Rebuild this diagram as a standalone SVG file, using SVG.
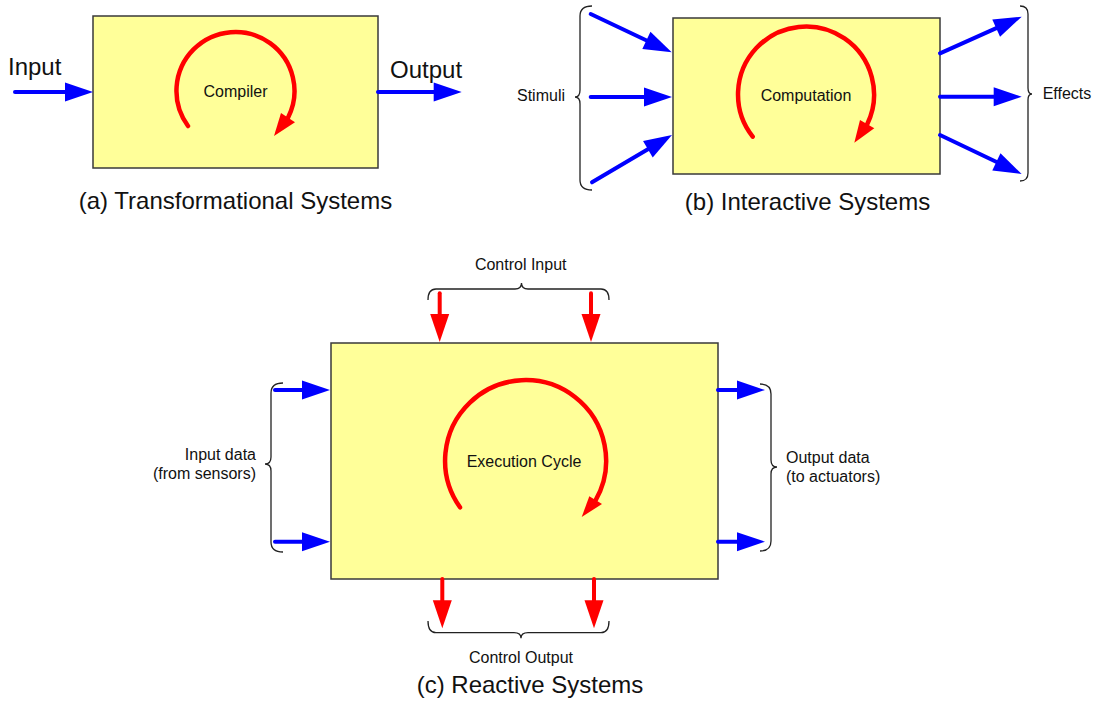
<svg xmlns="http://www.w3.org/2000/svg" width="1096" height="704" viewBox="0 0 1096 704">
<style>
.box{fill:#FFFF99;stroke:#3a3a3a;stroke-width:1.5}
.txt{font-family:"Liberation Sans",Arial,sans-serif;fill:#111}
.s16{font-size:16px}
.s24{font-size:24px}
.mid{text-anchor:middle}
.end{text-anchor:end}
.blue{stroke:#0000FF;stroke-width:4;fill:none;stroke-linecap:round}
.red{stroke:#FF0000;stroke-width:4;fill:none;stroke-linecap:round}
.cyc{stroke:#FF0000;stroke-width:4.5;fill:none;stroke-linecap:round}
.head{fill:#FF0000;stroke:none}
.brace{stroke:#222;stroke-width:1.3;fill:none}
</style>
<defs>
<marker id="bh" markerUnits="userSpaceOnUse" markerWidth="28" markerHeight="19" refX="2" refY="9.5" orient="auto" overflow="visible">
<path d="M0,0 L28,9.5 L0,19 z" fill="#0000FF"/>
</marker>
<marker id="rh" markerUnits="userSpaceOnUse" markerWidth="28" markerHeight="19" refX="2" refY="9.5" orient="auto" overflow="visible">
<path d="M0,0 L28,9.5 L0,19 z" fill="#FF0000"/>
</marker>
</defs>

<!-- (a) Transformational -->
<g id="node-compiler">
<rect class="box" x="93" y="16" width="285" height="152"/>
<path class="cyc" d="M188,126 A59,59 0 1 1 288,117.8"/>
<polygon class="head" points="274,136 281,113 295,122.3"/>
<text class="txt s16 mid" x="235.5" y="96.7">Compiler</text>
</g>
<g id="label-a">
<text class="txt s24" x="8" y="75">Input</text>
<text class="txt s24" x="390" y="78">Output</text>
<text class="txt s24 mid" x="235.5" y="209">(a) Transformational Systems</text>
</g>

<!-- (b) Interactive -->
<g id="node-computation">
<rect class="box" x="673" y="18" width="267" height="156"/>
<path class="cyc" d="M752.7,136.7 A68,68 0 1 1 867.2,124.2"/>
<polygon class="head" points="854.3,142.7 860,120 874.3,128.3"/>
<text class="txt s16 mid" x="806" y="101">Computation</text>
</g>
<g id="label-b">
<text class="txt s16 end" x="565" y="101">Stimuli</text>
<text class="txt s16" x="1042.7" y="99">Effects</text>
<text class="txt s24 mid" x="807.5" y="210">(b) Interactive Systems</text>
<path class="brace" d="M592,6 Q580,6 580,16 L580,90 Q580,97 575,97 Q580,97 580,104 L580,180 Q580,190 592,190"/>
<path class="brace" d="M1020,6 Q1028,6 1028,14 L1028,88 Q1028,94 1032,94 Q1028,94 1028,100 L1028,173 Q1028,181 1020,181"/>
</g>

<!-- (c) Reactive -->
<g id="node-execution">
<rect class="box" x="331" y="343" width="387" height="236"/>
<path class="cyc" d="M460,507.3 A80.5,80.5 0 1 1 595.7,500.2"/>
<polygon class="head" points="581.7,517 589.3,496.3 602,504"/>
<text class="txt s16 mid" x="524" y="467">Execution Cycle</text>
</g>
<g id="label-c">
<text class="txt s16 mid" x="520.7" y="270">Control Input</text>
<text class="txt s16 end" x="256" y="460">Input data</text>
<text class="txt s16 end" x="256" y="479">(from sensors)</text>
<text class="txt s16" x="786" y="462.7">Output data</text>
<text class="txt s16" x="786" y="481.7">(to actuators)</text>
<text class="txt s16 mid" x="521" y="662.7">Control Output</text>
<text class="txt s24 mid" x="530" y="693">(c) Reactive Systems</text>
<path class="brace" d="M428,300 Q428,289 436,289 L515,289 Q521.5,289 521.5,283 Q521.5,289 528,289 L601,289 Q609,289 609,300"/>
<path class="brace" d="M283,383 Q271,383 271,393 L271,457 Q271,464 265,464 Q271,464 271,471 L271,542 Q271,552 283,552"/>
<path class="brace" d="M760,384 Q771,384 771,394 L771,460 Q771,467 777,467 Q771,467 771,474 L771,541 Q771,551 760,551"/>
<path class="brace" d="M428,621 Q428,632.7 436,632.7 L514,632.7 Q521,632.7 521,638.3 Q521,632.7 528,632.7 L601,632.7 Q609,632.7 609,621"/>
</g>

<g id="connectors">
<line class="blue" x1="15" y1="92" x2="67" y2="92" marker-end="url(#bh)"/>
<line class="blue" x1="378" y1="92" x2="435.7" y2="92" marker-end="url(#bh)"/>

<line class="blue" x1="590.7" y1="14" x2="648.2" y2="41.2" marker-end="url(#bh)"/>
<line class="blue" x1="590.7" y1="97" x2="646" y2="97" marker-end="url(#bh)"/>
<line class="blue" x1="592" y1="182.3" x2="649.6" y2="148.2" marker-end="url(#bh)"/>
<line class="blue" x1="940" y1="53.3" x2="998" y2="27.3" marker-end="url(#bh)"/>
<line class="blue" x1="940" y1="96.7" x2="995.7" y2="96.7" marker-end="url(#bh)"/>
<line class="blue" x1="940" y1="135" x2="998.2" y2="162.8" marker-end="url(#bh)"/>

<line class="blue" x1="275" y1="390" x2="304" y2="390" marker-end="url(#bh)"/>
<line class="blue" x1="275" y1="541.7" x2="304" y2="541.7" marker-end="url(#bh)"/>
<line class="blue" x1="718" y1="390" x2="739" y2="390" marker-end="url(#bh)"/>
<line class="blue" x1="718" y1="541.7" x2="739" y2="541.7" marker-end="url(#bh)"/>

<line class="red" x1="439.7" y1="293.3" x2="439.7" y2="316" marker-end="url(#rh)"/>
<line class="red" x1="591" y1="293.3" x2="591" y2="316" marker-end="url(#rh)"/>
<line class="red" x1="442.3" y1="579" x2="442.3" y2="602.3" marker-end="url(#rh)"/>
<line class="red" x1="594" y1="579" x2="594" y2="602.3" marker-end="url(#rh)"/>
</g>
</svg>
